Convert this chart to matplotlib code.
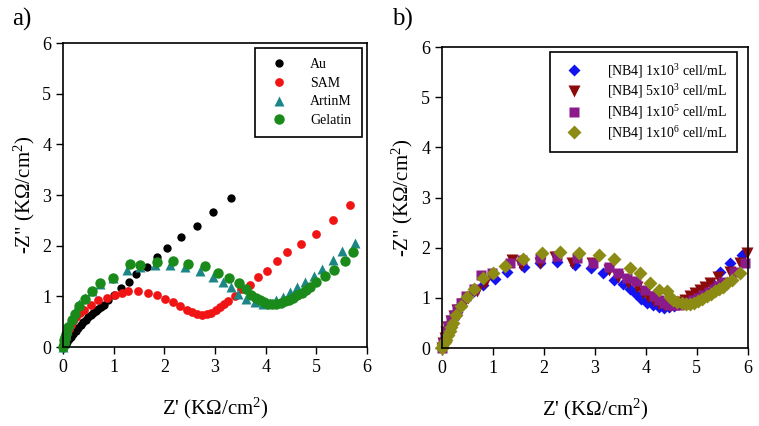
import matplotlib
matplotlib.use("Agg")
import matplotlib.pyplot as plt

plt.rcParams['font.family'] = ['Liberation Serif', 'DejaVu Serif']
plt.rcParams['mathtext.fontset'] = 'custom'
plt.rcParams['mathtext.rm'] = 'Liberation Serif'
plt.rcParams['mathtext.it'] = 'Liberation Serif:italic'

# ---- panel a) data ----
au_x = [0, 0.02, 0.05, 0.08, 0.12, 0.16, 0.20, 0.25, 0.30, 0.35, 0.40, 0.45, 0.50, 0.55, 0.60,
        0.65, 0.70, 0.75, 0.80, 0.89, 1.01, 1.14, 1.30, 1.45, 1.65, 1.85, 2.06, 2.32, 2.64, 2.96, 3.31]
au_y = [0, 0.03, 0.07, 0.11, 0.16, 0.21, 0.26, 0.32, 0.38, 0.43, 0.49, 0.54, 0.59, 0.64, 0.68,
        0.72, 0.75, 0.79, 0.83, 0.93, 1.03, 1.16, 1.29, 1.44, 1.58, 1.77, 1.95, 2.18, 2.39, 2.67, 2.94]

sam_x = [0, 0.01, 0.03, 0.05, 0.08, 0.11, 0.15, 0.20, 0.26, 0.33, 0.42, 0.55, 0.70, 0.86, 1.03,
         1.16, 1.29, 1.49, 1.67, 1.85, 2.01, 2.18, 2.31, 2.44, 2.54, 2.64, 2.74, 2.84, 2.93, 3.02,
         3.10, 3.18, 3.26, 3.39, 3.52, 3.69, 3.85, 4.03, 4.23, 4.43, 4.69, 5.00, 5.33, 5.66]
sam_y = [0, 0.06, 0.13, 0.20, 0.28, 0.36, 0.44, 0.52, 0.60, 0.67, 0.74, 0.83, 0.93, 0.98, 1.03,
         1.07, 1.10, 1.10, 1.06, 1.03, 0.96, 0.89, 0.81, 0.73, 0.69, 0.66, 0.64, 0.65, 0.68, 0.73,
         0.79, 0.85, 0.91, 1.01, 1.14, 1.22, 1.39, 1.50, 1.70, 1.87, 2.03, 2.24, 2.50, 2.81]

artin_x = [0, 0.01, 0.03, 0.05, 0.08, 0.12, 0.17, 0.23, 0.32, 0.43, 0.57, 0.74, 0.98, 1.26, 1.52,
           1.81, 2.11, 2.41, 2.70, 2.96, 3.15, 3.31, 3.46, 3.62, 3.79, 3.95, 4.08, 4.21, 4.35, 4.48,
           4.61, 4.77, 4.95, 5.12, 5.32, 5.50, 5.76]
artin_y = [0, 0.08, 0.16, 0.25, 0.35, 0.47, 0.60, 0.72, 0.85, 0.98, 1.10, 1.24, 1.37, 1.52, 1.58,
           1.62, 1.62, 1.58, 1.50, 1.39, 1.29, 1.19, 1.05, 0.96, 0.89, 0.86, 0.87, 0.93, 0.99, 1.09,
           1.18, 1.29, 1.40, 1.55, 1.72, 1.90, 2.06]

gel_x = [0, 0.01, 0.02, 0.04, 0.06, 0.10, 0.17, 0.24, 0.32, 0.43, 0.58, 0.74, 0.98, 1.32, 1.52,
         1.85, 2.18, 2.47, 2.80, 3.05, 3.28, 3.47, 3.62, 3.72, 3.80, 3.89, 3.97, 4.05, 4.13, 4.21,
         4.30, 4.38, 4.46, 4.54, 4.62, 4.71, 4.79, 4.87, 5.00, 5.17, 5.35, 5.56, 5.73]
gel_y = [0, 0.07, 0.14, 0.20, 0.27, 0.40, 0.53, 0.66, 0.81, 0.95, 1.10, 1.26, 1.37, 1.65, 1.63,
         1.68, 1.70, 1.65, 1.60, 1.47, 1.37, 1.27, 1.14, 1.03, 0.98, 0.93, 0.89, 0.86, 0.85, 0.86,
         0.87, 0.91, 0.94, 0.98, 1.02, 1.07, 1.12, 1.18, 1.29, 1.40, 1.52, 1.70, 1.88]

# ---- panel b) data ----
blue_x = [0, 0.02, 0.05, 0.08, 0.12, 0.17, 0.23, 0.30, 0.38, 0.48, 0.62, 0.80, 1.05, 1.27, 1.60,
          1.93, 2.25, 2.61, 2.92, 3.16, 3.38, 3.55, 3.68, 3.80, 3.91, 4.02, 4.13, 4.25, 4.35, 4.45,
          4.55, 4.65, 4.75, 4.85, 4.97, 5.13, 5.29, 5.46, 5.65, 5.88]
blue_y = [0, 0.10, 0.20, 0.30, 0.40, 0.50, 0.60, 0.72, 0.85, 1.00, 1.14, 1.25, 1.38, 1.52, 1.62,
          1.69, 1.72, 1.66, 1.59, 1.49, 1.36, 1.27, 1.18, 1.07, 0.98, 0.90, 0.85, 0.81, 0.80, 0.81,
          0.84, 0.88, 0.92, 0.98, 1.06, 1.16, 1.29, 1.52, 1.69, 1.85]

dred_x = [0, 0.02, 0.05, 0.08, 0.12, 0.17, 0.23, 0.30, 0.39, 0.52, 0.69, 0.85, 1.37, 1.55, 1.93,
          2.22, 2.55, 2.94, 3.27, 3.46, 3.65, 3.82, 3.94, 4.05, 4.15, 4.25, 4.35, 4.48, 4.58, 4.67,
          4.77, 4.87, 4.97, 5.06, 5.16, 5.26, 5.42, 5.65, 5.85, 5.98]
dred_y = [0, 0.10, 0.20, 0.31, 0.42, 0.53, 0.64, 0.76, 0.88, 0.99, 1.13, 1.29, 1.76, 1.66, 1.70,
          1.81, 1.69, 1.69, 1.56, 1.42, 1.29, 1.22, 1.10, 1.01, 0.93, 0.87, 0.85, 0.83, 0.85, 0.91,
          0.96, 1.03, 1.10, 1.16, 1.22, 1.29, 1.42, 1.52, 1.69, 1.89]

purp_x = [0, 0.02, 0.05, 0.08, 0.12, 0.17, 0.23, 0.30, 0.38, 0.48, 0.62, 0.76, 0.99, 1.34, 1.57,
          1.93, 2.25, 2.64, 2.97, 3.27, 3.46, 3.62, 3.80, 3.99, 4.15, 4.25, 4.35, 4.45, 4.55, 4.65,
          4.74, 4.84, 4.93, 5.03, 5.13, 5.23, 5.33, 5.42, 5.52, 5.72, 5.95]
purp_y = [0, 0.10, 0.21, 0.32, 0.43, 0.55, 0.66, 0.78, 0.90, 1.03, 1.17, 1.46, 1.49, 1.69, 1.76,
          1.80, 1.83, 1.80, 1.70, 1.62, 1.49, 1.40, 1.33, 1.16, 1.03, 0.95, 0.89, 0.86, 0.85, 0.86,
          0.88, 0.91, 0.95, 1.00, 1.05, 1.11, 1.18, 1.24, 1.31, 1.51, 1.69]

olive_x = [0, 0.01, 0.03, 0.05, 0.08, 0.11, 0.15, 0.18, 0.22, 0.28, 0.37, 0.49, 0.62, 0.80, 1.00,
           1.24, 1.59, 1.96, 2.31, 2.68, 3.09, 3.38, 3.69, 3.89, 4.08, 4.25, 4.41, 4.48, 4.54, 4.62,
           4.71, 4.79, 4.87, 4.95, 5.03, 5.11, 5.20, 5.28, 5.36, 5.44, 5.52, 5.60, 5.69, 5.85]
olive_y = [0, 0.03, 0.08, 0.12, 0.17, 0.25, 0.33, 0.42, 0.50, 0.66, 0.84, 1.01, 1.17, 1.39, 1.49,
           1.64, 1.77, 1.89, 1.92, 1.90, 1.85, 1.77, 1.59, 1.49, 1.29, 1.16, 1.13, 1.02, 0.96, 0.92,
           0.89, 0.88, 0.88, 0.90, 0.93, 0.97, 1.03, 1.08, 1.13, 1.17, 1.22, 1.29, 1.36, 1.50]

labels_a = ["Au", "SAM", "ArtinM", "Gelatin"]
labels_b = ["[NB4] 1x10$^{3}$ cell/mL", "[NB4] 5x10$^{3}$ cell/mL",
            "[NB4] 1x10$^{5}$ cell/mL", "[NB4] 1x10$^{6}$ cell/mL"]
ticks = [0, 1, 2, 3, 4, 5, 6]

fig = plt.figure(figsize=(7.59, 4.26), dpi=100)
ax1 = fig.add_axes([0.083, 0.185, 0.4005, 0.714])
ax2 = fig.add_axes([0.5823, 0.183, 0.403, 0.7066])

kw = dict(ls='none', mec='none', clip_on=False)
ax1.plot(au_x, au_y, 'o', color='black', ms=6, label=labels_a[0], **kw)
ax1.plot(sam_x, sam_y, 'o', color='#f01414', ms=6.3, label=labels_a[1], **kw)
ax1.plot(artin_x, artin_y, '^', color='#1c8686', ms=7.5, label=labels_a[2], **kw)
ax1.plot(gel_x, gel_y, 'o', color='#1a8a1a', ms=7.5, label=labels_a[3], **kw)

ax2.plot(blue_x, blue_y, 'D', color='#1414f0', ms=6.5, label=labels_b[0], **kw)
ax2.plot(dred_x, dred_y, 'v', color='#8b0a0a', ms=8, label=labels_b[1], **kw)
ax2.plot(purp_x, purp_y, 's', color='#8b1a8b', ms=7, label=labels_b[2], **kw)
ax2.plot(olive_x, olive_y, 'D', color='#8c8c14', ms=7, label=labels_b[3], **kw)

for ax in (ax1, ax2):
    ax.set_xlim(0, 6)
    ax.set_ylim(0, 6)
    ax.set_xticks(ticks)
    ax.set_yticks(ticks)
    ax.tick_params(direction='out', length=5, width=1, labelsize=13, top=False, right=False)
    for s in ax.spines.values():
        s.set_linewidth(1.2)
    ax.set_xlabel("Z' (K\u03a9/cm$^{2}$)", fontsize=15, labelpad=14)
    ax.set_ylabel('-Z" (K\u03a9/cm$^{2}$)', fontsize=15, labelpad=4)

fig.text(0.016, 0.955, "a)", fontsize=18, va='center')
fig.text(0.516, 0.955, "b)", fontsize=18, va='center')

leg1 = ax1.legend(loc='upper right', bbox_to_anchor=(0.984, 0.984), borderaxespad=0,
                  fontsize=10, fancybox=False, edgecolor='black', framealpha=1,
                  labelspacing=0.4, handletextpad=1.2, borderpad=0.75)
leg1.get_frame().set_linewidth(1.2)
leg2 = ax2.legend(loc='upper right', bbox_to_anchor=(0.964, 0.983), borderaxespad=0,
                  fontsize=10, fancybox=False, edgecolor='black', framealpha=1,
                  labelspacing=0.2, handletextpad=1.4, borderpad=0.7)
leg2.get_frame().set_linewidth(1.2)

fig.savefig("out.png", dpi=100)
